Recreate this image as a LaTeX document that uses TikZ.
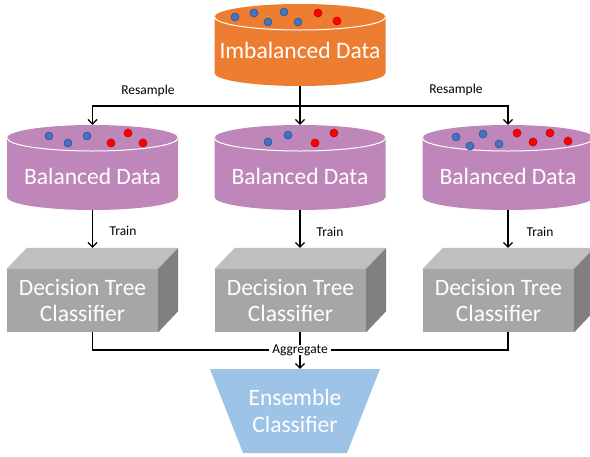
\documentclass[tikz,border=0pt]{standalone}
\usepackage{fontspec}
\setmainfont{Carlito}
\usetikzlibrary{arrows.meta}

\definecolor{imbfill}{HTML}{ED7D31}
\definecolor{balfill}{HTML}{BF86BA}
\definecolor{boxfront}{HTML}{A6A6A6}
\definecolor{boxtop}{HTML}{BFBFBF}
\definecolor{boxside}{HTML}{808080}
\definecolor{ensfill}{HTML}{9DC3E6}
\definecolor{dotblue}{HTML}{4472C4}
\definecolor{dotblueedge}{HTML}{2F528F}
\definecolor{dotred}{HTML}{FF0000}
\definecolor{dotrededge}{HTML}{C00000}

\newcommand{\bigtext}{\fontsize{23.5}{25.5}\selectfont}
\newcommand{\smalltext}{\fontsize{13.5}{15}\selectfont}

\tikzset{
  % cylinder drawn inside a rectangular node: lid ellipse on top, round bottom
  drum/.style 2 args={inner sep=0pt, minimum width=171pt, minimum height=#2,
    path picture={
      \fill[#1] ([yshift=-13pt]path picture bounding box.north west)
        -- ([yshift=13pt]path picture bounding box.south west)
        arc[start angle=180,end angle=360,x radius=85.5pt,y radius=13pt]
        -- ([yshift=-13pt]path picture bounding box.north east)
        arc[start angle=0,end angle=180,x radius=85.5pt,y radius=13pt] -- cycle;
      \draw[white,line width=1pt] ([yshift=-13pt]path picture bounding box.north west)
        arc[start angle=180,end angle=360,x radius=85.5pt,y radius=13pt];
    }},
  drumtext/.style={text=white, font=\bigtext, inner sep=0pt},
  dtbox/.style={fill=boxfront, minimum width=151pt, minimum height=63pt, inner sep=0pt,
    text=white, align=center, font=\bigtext},
  ensshape/.style={inner sep=0pt, minimum width=170pt, minimum height=84pt,
    text=white, align=center, font=\bigtext,
    path picture={
      \fill[ensfill] (path picture bounding box.north west)
        -- (path picture bounding box.north east)
        -- ([xshift=-33pt]path picture bounding box.south east)
        -- ([xshift=33pt]path picture bounding box.south west) -- cycle;
    }},
  lbl/.style={font=\smalltext, inner sep=1.5pt},
  conn/.style={line width=1.2pt, black},
  arr/.style={conn, -{Straight Barb[length=4.5pt,width=9pt,line width=1.2pt]}},
  bdot/.style={fill=dotblue, draw=dotblueedge, line width=0.6pt},
  rdot/.style={fill=dotred, draw=dotrededge, line width=0.6pt},
}

\begin{document}
\begin{tikzpicture}[x=1pt,y=-1pt]
\useasboundingbox (0,0) rectangle (590,456);

% data stores
\node[drum={imbfill}{82pt}] (imb) at (300,45) {};
\node[drum={balfill}{85pt}] (bal1) at (92.5,167.5) {};
\node[drum={balfill}{85pt}] (bal2) at (300,167.5) {};
\node[drum={balfill}{85pt}] (bal3) at (508,167.5) {};

\node[drumtext] (imbtxt) at (300,50) {Imbalanced Data};
\node[drumtext] (baltxt1) at (92.5,176) {Balanced Data};
\node[drumtext] (baltxt2) at (300,176) {Balanced Data};
\node[drumtext] (baltxt3) at (508,176) {Balanced Data};

% samples on the lids
\foreach \x/\y in {235/17,254/13,268/22,284/12,298/22}
  \filldraw[bdot] (\x,\y) circle[radius=4pt];
\foreach \x/\y in {318/13,337/21}
  \filldraw[rdot] (\x,\y) circle[radius=4pt];
\foreach \x/\y in {49/136,68/143,87/136}
  \filldraw[bdot] (\x,\y) circle[radius=4pt];
\foreach \x/\y in {111/143,128/133,143/143}
  \filldraw[rdot] (\x,\y) circle[radius=4pt];
\foreach \x/\y in {268/142,288/135}
  \filldraw[bdot] (\x,\y) circle[radius=4pt];
\foreach \x/\y in {315/143,334/133}
  \filldraw[rdot] (\x,\y) circle[radius=4pt];
\foreach \x/\y in {456/137,470/146,483/134,499/144}
  \filldraw[bdot] (\x,\y) circle[radius=4pt];
\foreach \x/\y in {517/133,533/142,550/133,568/141}
  \filldraw[rdot] (\x,\y) circle[radius=4pt];

% classifiers as 3-D boxes
\node[dtbox] (dt1) at (82.5,300.5) {Decision Tree\\Classifier};
\node[dtbox] (dt2) at (290.5,300.5) {Decision Tree\\Classifier};
\node[dtbox] (dt3) at (498.5,300.5) {Decision Tree\\Classifier};
\foreach \b in {dt1,dt2,dt3} {
  \fill[boxtop] (\b.north west) -- ++(20pt,21pt)
    -- ([shift={(20pt,21pt)}]\b.north east) -- (\b.north east) -- cycle;
  \fill[boxside] (\b.north east) -- ++(20pt,21pt)
    -- ([shift={(20pt,21pt)}]\b.south east) -- (\b.south east) -- cycle;
  \coordinate (\b-back) at ([yshift=21pt]\b.north);
}

% ensemble
\node[ensshape] (ens) at (295,411) {Ensemble\\[1pt]Classifier};

% resampling
\coordinate (split) at (300,106);
\draw[arr] (imb.south) -- (bal2.north);
\draw[arr] (split) -| (bal1.north);
\draw[arr] (split) -| (bal3.north);
\node[lbl] (rs1) at (148,91) {Resample};
\node[lbl] (rs2) at (456,90) {Resample};

% training
\draw[arr] (bal1.south) -- (bal1.south |- dt1-back);
\draw[arr] (bal2.south) -- (bal2.south |- dt2-back);
\draw[arr] (bal3.south) -- (bal3.south |- dt3-back);
\node[lbl] (tr1) at (123,231) {Train};
\node[lbl] (tr2) at (330,232) {Train};
\node[lbl] (tr3) at (540,232) {Train};

% aggregation
\coordinate (join) at (300,350);
\draw[conn] (bal1.south |- dt1.south) |- (join);
\draw[conn] (bal3.south |- dt3.south) |- (join);
\draw[arr] (bal2.south |- dt2.south) -- (bal2.south |- ens.north);
\node[lbl, fill=white, inner xsep=3pt, inner ysep=0pt] (agg) at (join) {Aggregate};
\end{tikzpicture}
\end{document}
